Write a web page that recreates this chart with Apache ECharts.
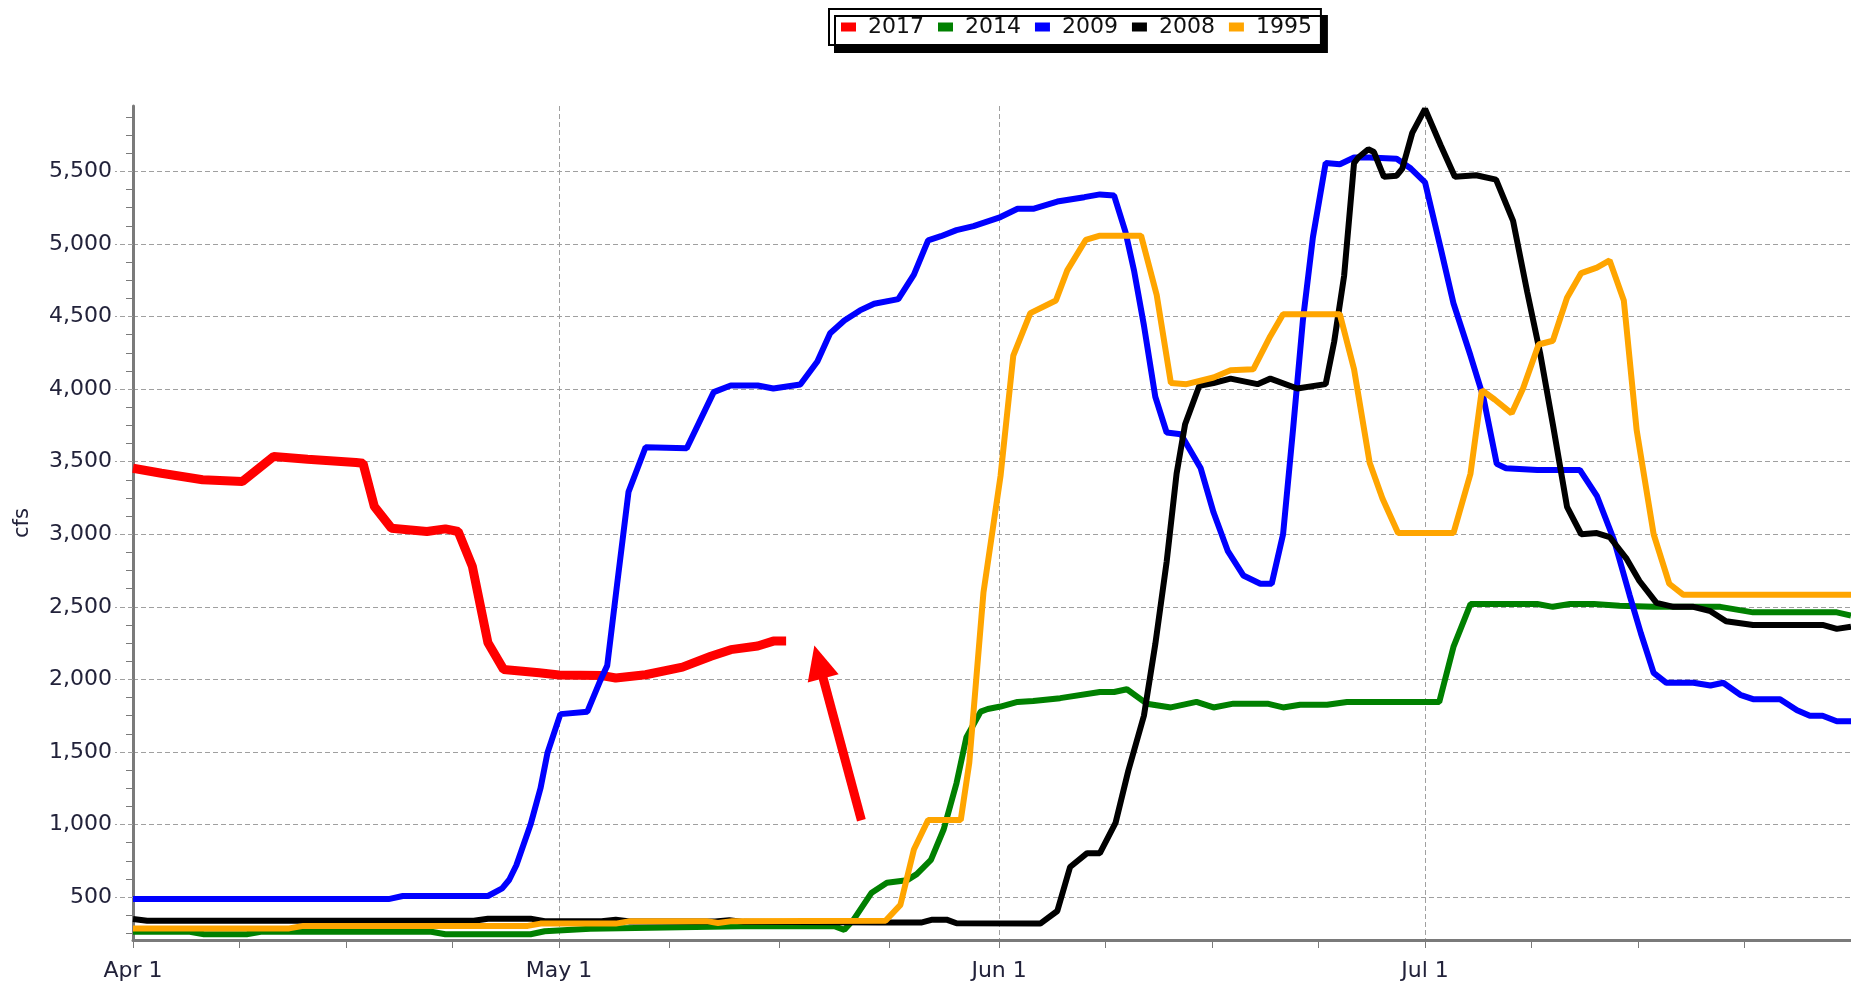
<!DOCTYPE html>
<html>
<head>
<meta charset="utf-8">
<script src="https://cdn.jsdelivr.net/npm/echarts@6/dist/echarts.min.js"></script>
<style>
html,body{margin:0;padding:0;background:#fff;}
#chart{width:1851px;height:988px;}
</style>
</head>
<body>
<div id="chart"></div>
<script>
// ---- Data (x = days since Apr 1, y = cfs) ----
const seriesNames = ['2017', '2014', '2009', '2008', '1995'];

const flow2017 = [[0,3455],[2,3420],[4.9,3375],[7.7,3363],[9.9,3535],[12.3,3517],[15.7,3494],[16.2,3489],[17,3191],[18.2,3042],[20.7,3019],[22,3037],[22.9,3019],[23.9,2779],[25,2252],[26.1,2069],[28.6,2046],[30,2030],[33,2027],[34,2010],[36.1,2032],[38.7,2085],[40.7,2160],[42.1,2205],[44,2230],[45.1,2264],[46,2264]];

const flow2014 = [[0,262],[4,262],[5,245],[8,245],[9,262],[21,262],[22,245],[28,245],[29,265],[32.2,282],[42.8,300],[49.4,300],[50.1,275],[50.8,352],[52,528],[53.1,599],[54.5,616],[55.2,659],[56.2,757],[57.1,968],[58,1285],[58.7,1602],[59.7,1778],[60.2,1796],[61.1,1813],[62.3,1845],[63.4,1852],[65.3,1871],[68.1,1913],[69.1,1913],[70,1932],[71.4,1833],[73.1,1807],[74.9,1845],[76.1,1807],[77.5,1833],[79.9,1833],[81,1807],[82.2,1826],[84.1,1826],[85.5,1845],[92,1845],[93,2224],[94.2,2519],[95.3,2519],[98.9,2519],[100,2500],[101.2,2519],[102.9,2519],[104.7,2508],[107.1,2500],[111.8,2500],[114.1,2462],[120,2462],[121,2440]];

const flow2009 = [[0,487],[18,487],[19,508],[25,508],[26,560],[26.5,620],[27,720],[28,1000],[28.7,1250],[29.2,1497],[30.1,1761],[32,1778],[32.9,1990],[33.4,2095],[34.1,2659],[34.9,3292],[36.1,3599],[39,3592],[40.9,3979],[42.1,4025],[44,4025],[45.1,4004],[47,4032],[48.2,4190],[49.1,4384],[50.1,4472],[51.2,4542],[52.2,4588],[53.9,4620],[55,4789],[56,5025],[56.9,5053],[58,5095],[59.2,5123],[61.1,5185],[62.3,5242],[63.4,5242],[65.1,5292],[67,5322],[68.1,5341],[69.1,5333],[69.9,5083],[70.5,4818],[71.2,4439],[72,3947],[72.8,3701],[73.8,3689],[75.2,3454],[76.1,3151],[77.1,2886],[78.2,2716],[79.4,2659],[80.2,2659],[81,3000],[81.7,3720],[82.4,4477],[83.1,5045],[84,5557],[85,5549],[86,5595],[87.1,5595],[89,5587],[90,5519],[91,5424],[92.1,4970],[93,4591],[94.2,4231],[95.1,3947],[96.05,3485],[96.7,3455],[98.9,3443],[101.9,3443],[103.1,3265],[104.3,2962],[105.4,2583],[106.2,2318],[107.1,2045],[108,1977],[109.9,1977],[111.1,1958],[112,1977],[113.2,1894],[114.1,1864],[116,1864],[117.2,1788],[118.1,1750],[119,1750],[120,1712],[121,1712]];

const flow2008 = [[0,350],[1,338],[24,338],[25,352],[28,352],[29,335],[33,335],[34,345],[35,332],[41,332],[42,342],[43,330],[52.5,325],[55.5,325],[56.3,345],[57.3,345],[58,320],[63.9,318],[65.1,405],[66,708],[67.2,803],[68.1,803],[69.2,1011],[70.1,1371],[71.2,1750],[72,2242],[72.8,2810],[73.5,3417],[74.1,3758],[75.1,4023],[76.1,4042],[77.3,4072],[79.2,4034],[80.1,4072],[82,4004],[84,4034],[84.6,4326],[85.3,4780],[86,5557],[86.3,5595],[87,5652],[87.4,5633],[88.1,5462],[89,5470],[89.4,5519],[90.1,5765],[91,5930],[92.1,5680],[93.1,5462],[94.6,5473],[96,5443],[97.2,5159],[98.2,4667],[99.1,4250],[100,3758],[101,3189],[102,3000],[103.1,3008],[104,2981],[105.2,2830],[106.1,2678],[107.3,2527],[108.5,2500],[109.9,2500],[111.1,2470],[112.2,2401],[114.1,2375],[119,2375],[120,2348],[121,2363]];

const flow1995 = [[0,285],[11,285],[12,302],[27.8,302],[28.7,318],[34,318],[35,335],[40.4,335],[41.2,322],[42.2,335],[53,338],[54.05,447],[55,828],[56,1032],[58.3,1032],[58.9,1426],[59.9,2600],[61.1,3400],[62,4231],[63.2,4523],[65,4610],[65.8,4818],[67.1,5027],[68.1,5057],[71,5057],[72.1,4648],[73.1,4042],[74.2,4034],[76.1,4080],[77.3,4129],[78.9,4136],[80.1,4364],[81,4515],[85,4515],[86,4136],[87.1,3492],[88,3246],[89.1,3008],[93,3008],[94.2,3417],[95,3992],[95.9,3928],[97.1,3833],[97.9,4004],[99,4307],[100,4333],[101,4629],[102,4799],[103.1,4837],[104,4886],[105,4610],[105.9,3720],[107.1,3000],[108.2,2659],[109.2,2583],[121,2583]];

// ---- Axes ----
const dayMin = 0, dayMax = 121;
const cfsMin = 205, cfsMax = 5950;
const monthTickDays = [0, 30, 61, 91];
const monthTickLabels = ['Apr 1', 'May 1', 'Jun 1', 'Jul 1'];
const minorTickDays = [7.5, 15, 22.5, 37.75, 45.5, 53.25, 68.5, 76, 83.5, 98.5, 106, 113.5];
const cfsLabelValues = [500, 1000, 1500, 2000, 2500, 3000, 3500, 4000, 4500, 5000, 5500];
const cfsMinorValues = [250, 375, 625, 750, 875, 1125, 1250, 1375, 1625, 1750, 1875, 2125, 2250, 2375, 2625, 2750, 2875, 3125, 3250, 3375, 3625, 3750, 3875, 4125, 4250, 4375, 4625, 4750, 4875, 5125, 5250, 5375, 5625, 5750, 5875];
const yAxisName = 'cfs';

// annotation arrow (data coordinates)
const arrowTail = [51.3, 1030];
const arrowHead = [48.3, 2120];

// ---- Styles ----
const seriesColors = ['#ff0000', '#008000', '#0000ff', '#000000', '#ffa500'];
const seriesWidths = [9, 6, 6, 6, 6];
const seriesData = [flow2017, flow2014, flow2009, flow2008, flow1995];

const FONT = 'DejaVu Sans, Verdana, sans-serif';
const gridColor = '#a0a0a0';
const axisColor = '#7a7a7a';
const textColor = '#22223a';

const chart = echarts.init(document.getElementById('chart'), null, {renderer: 'canvas'});

const series = seriesNames.map((name, i) => {
  const s = {
    name: name,
    type: 'line',
    xAxisIndex: 0,
    yAxisIndex: 0,
    data: seriesData[i],
    showSymbol: false,
    symbol: 'none',
    color: seriesColors[i],
    lineStyle: {color: seriesColors[i], width: seriesWidths[i]},
    emphasis: {disabled: true},
    animation: false,
    z: 2 + i * 0.01
  };
  if (i === 0) {
    s.markLine = {
      silent: true,
      animation: false,
      z: 6,
      symbol: ['none', 'triangle'],
      symbolSize: [32, 34],
      label: {show: false},
      emphasis: {disabled: true},
      lineStyle: {color: '#ff0000', width: 9, type: 'solid', opacity: 1},
      data: [[{coord: arrowTail}, {coord: arrowHead}]]
    };
  }
  return s;
});

const option = {
  backgroundColor: '#ffffff',
  animation: false,
  textStyle: {fontFamily: FONT},
  legend: {
    data: seriesNames,
    left: 829,
    top: 9,
    orient: 'horizontal',
    icon: 'rect',
    itemWidth: 15,
    itemHeight: 9,
    itemGap: 14,
    padding: [7, 9, 7, 12],
    backgroundColor: '#ffffff',
    borderColor: '#000000',
    borderWidth: 2,
    borderRadius: 0,
    shadowColor: '#000000',
    shadowBlur: 0,
    shadowOffsetX: 6,
    shadowOffsetY: 7,
    selectedMode: false,
    formatter: name => ' ' + name,
    textStyle: {fontFamily: FONT, fontSize: 22, color: '#111'}
  },
  grid: {
    left: 133,
    right: 0,
    top: 106,
    bottom: 48,
    containLabel: false,
    outerBoundsMode: 'none'
  },
  xAxis: [
    {
      type: 'value',
      min: dayMin,
      max: dayMax,
      position: 'bottom',
      axisLine: {show: true, onZero: false, lineStyle: {color: axisColor, width: 3}},
      axisTick: {show: true, customValues: monthTickDays, length: 8, lineStyle: {color: axisColor, width: 1}},
      axisLabel: {
        show: true,
        customValues: monthTickDays,
        margin: 20,
        fontFamily: FONT,
        fontSize: 22,
        color: textColor,
        formatter: v => {
          const k = monthTickDays.indexOf(v);
          return k >= 0 ? monthTickLabels[k] : '';
        }
      },
      splitLine: {show: true, lineStyle: {color: gridColor, width: 1, type: [5, 3]}}
    },
    {
      type: 'value',
      min: dayMin,
      max: dayMax,
      position: 'bottom',
      axisLine: {show: false, onZero: false},
      axisTick: {show: true, customValues: minorTickDays, length: 8, lineStyle: {color: axisColor, width: 1}},
      axisLabel: {show: false},
      splitLine: {show: false}
    }
  ],
  yAxis: [
    {
      type: 'value',
      min: cfsMin,
      max: cfsMax,
      position: 'left',
      name: yAxisName,
      nameLocation: 'middle',
      nameGap: 100,
      nameRotate: 90,
      nameTextStyle: {fontFamily: FONT, fontSize: 21, color: textColor},
      axisLine: {show: true, onZero: false, lineStyle: {color: axisColor, width: 3}},
      axisTick: {show: true, customValues: cfsLabelValues, length: 18, lineStyle: {color: gridColor, width: 1, type: [5, 3]}},
      axisLabel: {
        show: true,
        customValues: cfsLabelValues,
        margin: 21,
        fontFamily: FONT,
        fontSize: 22,
        color: textColor,
        formatter: v => Number(v).toLocaleString('en-US')
      },
      splitLine: {show: true, lineStyle: {color: gridColor, width: 1, type: [5, 3]}}
    },
    {
      type: 'value',
      min: cfsMin,
      max: cfsMax,
      position: 'left',
      axisLine: {show: false, onZero: false},
      axisTick: {show: true, customValues: cfsMinorValues, length: 7, lineStyle: {color: axisColor, width: 1}},
      axisLabel: {show: false},
      splitLine: {show: false}
    }
  ],
  series: series
};

chart.setOption(option);
</script>
</body>
</html>
